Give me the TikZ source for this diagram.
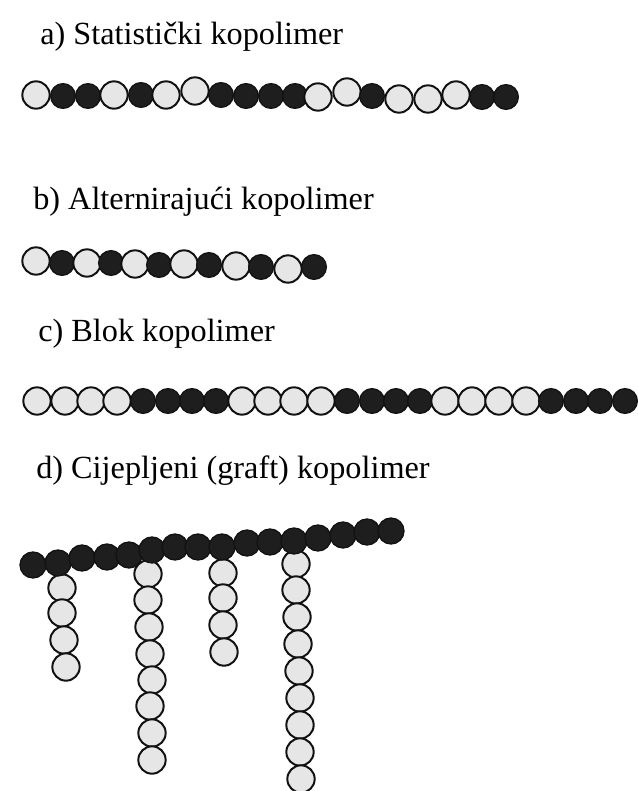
\documentclass[tikz,border=0pt]{standalone}
\usepackage{fontspec}
\setmainfont{Liberation Serif}
\usetikzlibrary{positioning}
\definecolor{beadlt}{HTML}{E6E6E6}
\definecolor{beaddk}{HTML}{1E1E1E}
\definecolor{beadln}{HTML}{121212}

\begin{document}
\begin{tikzpicture}[x=0.75pt, y=-0.75pt,
  lt/.style={circle, draw=beadln, fill=beadlt, line width=1.5pt, inner sep=0pt, minimum size=20.5pt},
  dk/.style={circle, draw=beadln, fill=beaddk, line width=1pt, inner sep=0pt, minimum size=18.5pt},
  label/.style={anchor=base west, inner sep=0pt, text=black, font=\fontsize{24.2}{28}\selectfont}]

% Page (pixel coordinates, y down)
\useasboundingbox (0,0) rectangle (637,791);
\fill[white] (0,0) rectangle (637,791);

% ============================================================
% a) statistical copolymer
% ============================================================
\node[label] (ta) at (40,45) {a) Statistički kopolimer};
\foreach \s/\xc/\yc [count=\i] in {lt/36/95, dk/63/96, dk/88/96, lt/114/95, dk/141/95,
    lt/166/95, lt/195/91, dk/221/95, dk/246/96, dk/271/96, dk/295/96, lt/318/97,
    lt/347/92, dk/372/96, lt/399/99, lt/428/99, lt/456/95, dk/482/97, dk/506/97} {
  \node[\s] (a\i) at (\xc,\yc) {};
}

% ============================================================
% b) alternating copolymer
% ============================================================
\node[label] (tb) at (33,210) {b) Alternirajući kopolimer};
\foreach \s/\xc/\yc [count=\i] in {lt/36/261, dk/62/263, lt/87/263, dk/111/263,
    lt/135/264, dk/159/265, lt/184/264, dk/209/265, lt/236/266, dk/261/267,
    lt/288/269, dk/314/267} {
  \node[\s] (b\i) at (\xc,\yc) {};
}

% ============================================================
% c) block copolymer
% ============================================================
\node[label] (tc) at (38,341) {c) Blok kopolimer};
\foreach \s/\xc [count=\i] in {lt/37, lt/65, lt/91, lt/117, dk/143, dk/168, dk/192, dk/216,
    lt/242, lt/268, lt/294, lt/321, dk/347, dk/372, dk/396, dk/420,
    lt/445, lt/472, lt/499, lt/526, dk/551, dk/576, dk/600, dk/625} {
  \node[\s] (c\i) at (\xc,401) {};
}

% ============================================================
% d) graft copolymer
% ============================================================
\node[label] (td) at (36,478) {d) Cijepljeni (graft) kopolimer};

% side chains first, the backbone covers their tops
\foreach \xc/\yc [count=\i] in {62/588, 62/613, 64/640, 66/667}
  \node[lt] (s1-\i) at (\xc,\yc) {};
\foreach \xc/\yc [count=\i] in {148/574, 148/600, 149/627, 150/654, 152/680,
    150/706, 152/733, 152/760}
  \node[lt] (s2-\i) at (\xc,\yc) {};
\foreach \xc/\yc [count=\i] in {223/573, 223/598, 223/625, 224/652}
  \node[lt] (s3-\i) at (\xc,\yc) {};
\foreach \xc/\yc [count=\i] in {296/564, 296/590, 297/617, 298/644, 299/671,
    300/698, 300/725, 300/752, 301/779}
  \node[lt] (s4-\i) at (\xc,\yc) {};

% backbone
\foreach \xc/\yc [count=\i] in {33/565, 58/563, 82/558, 107/557, 129/555, 152/550,
    175/547, 198/547, 222/547, 247/543, 270/542, 294/541, 318/538, 343/535,
    367/532, 391/531}
  \node[dk, minimum size=19.5pt] (d\i) at (\xc,\yc) {};

\end{tikzpicture}
\end{document}
